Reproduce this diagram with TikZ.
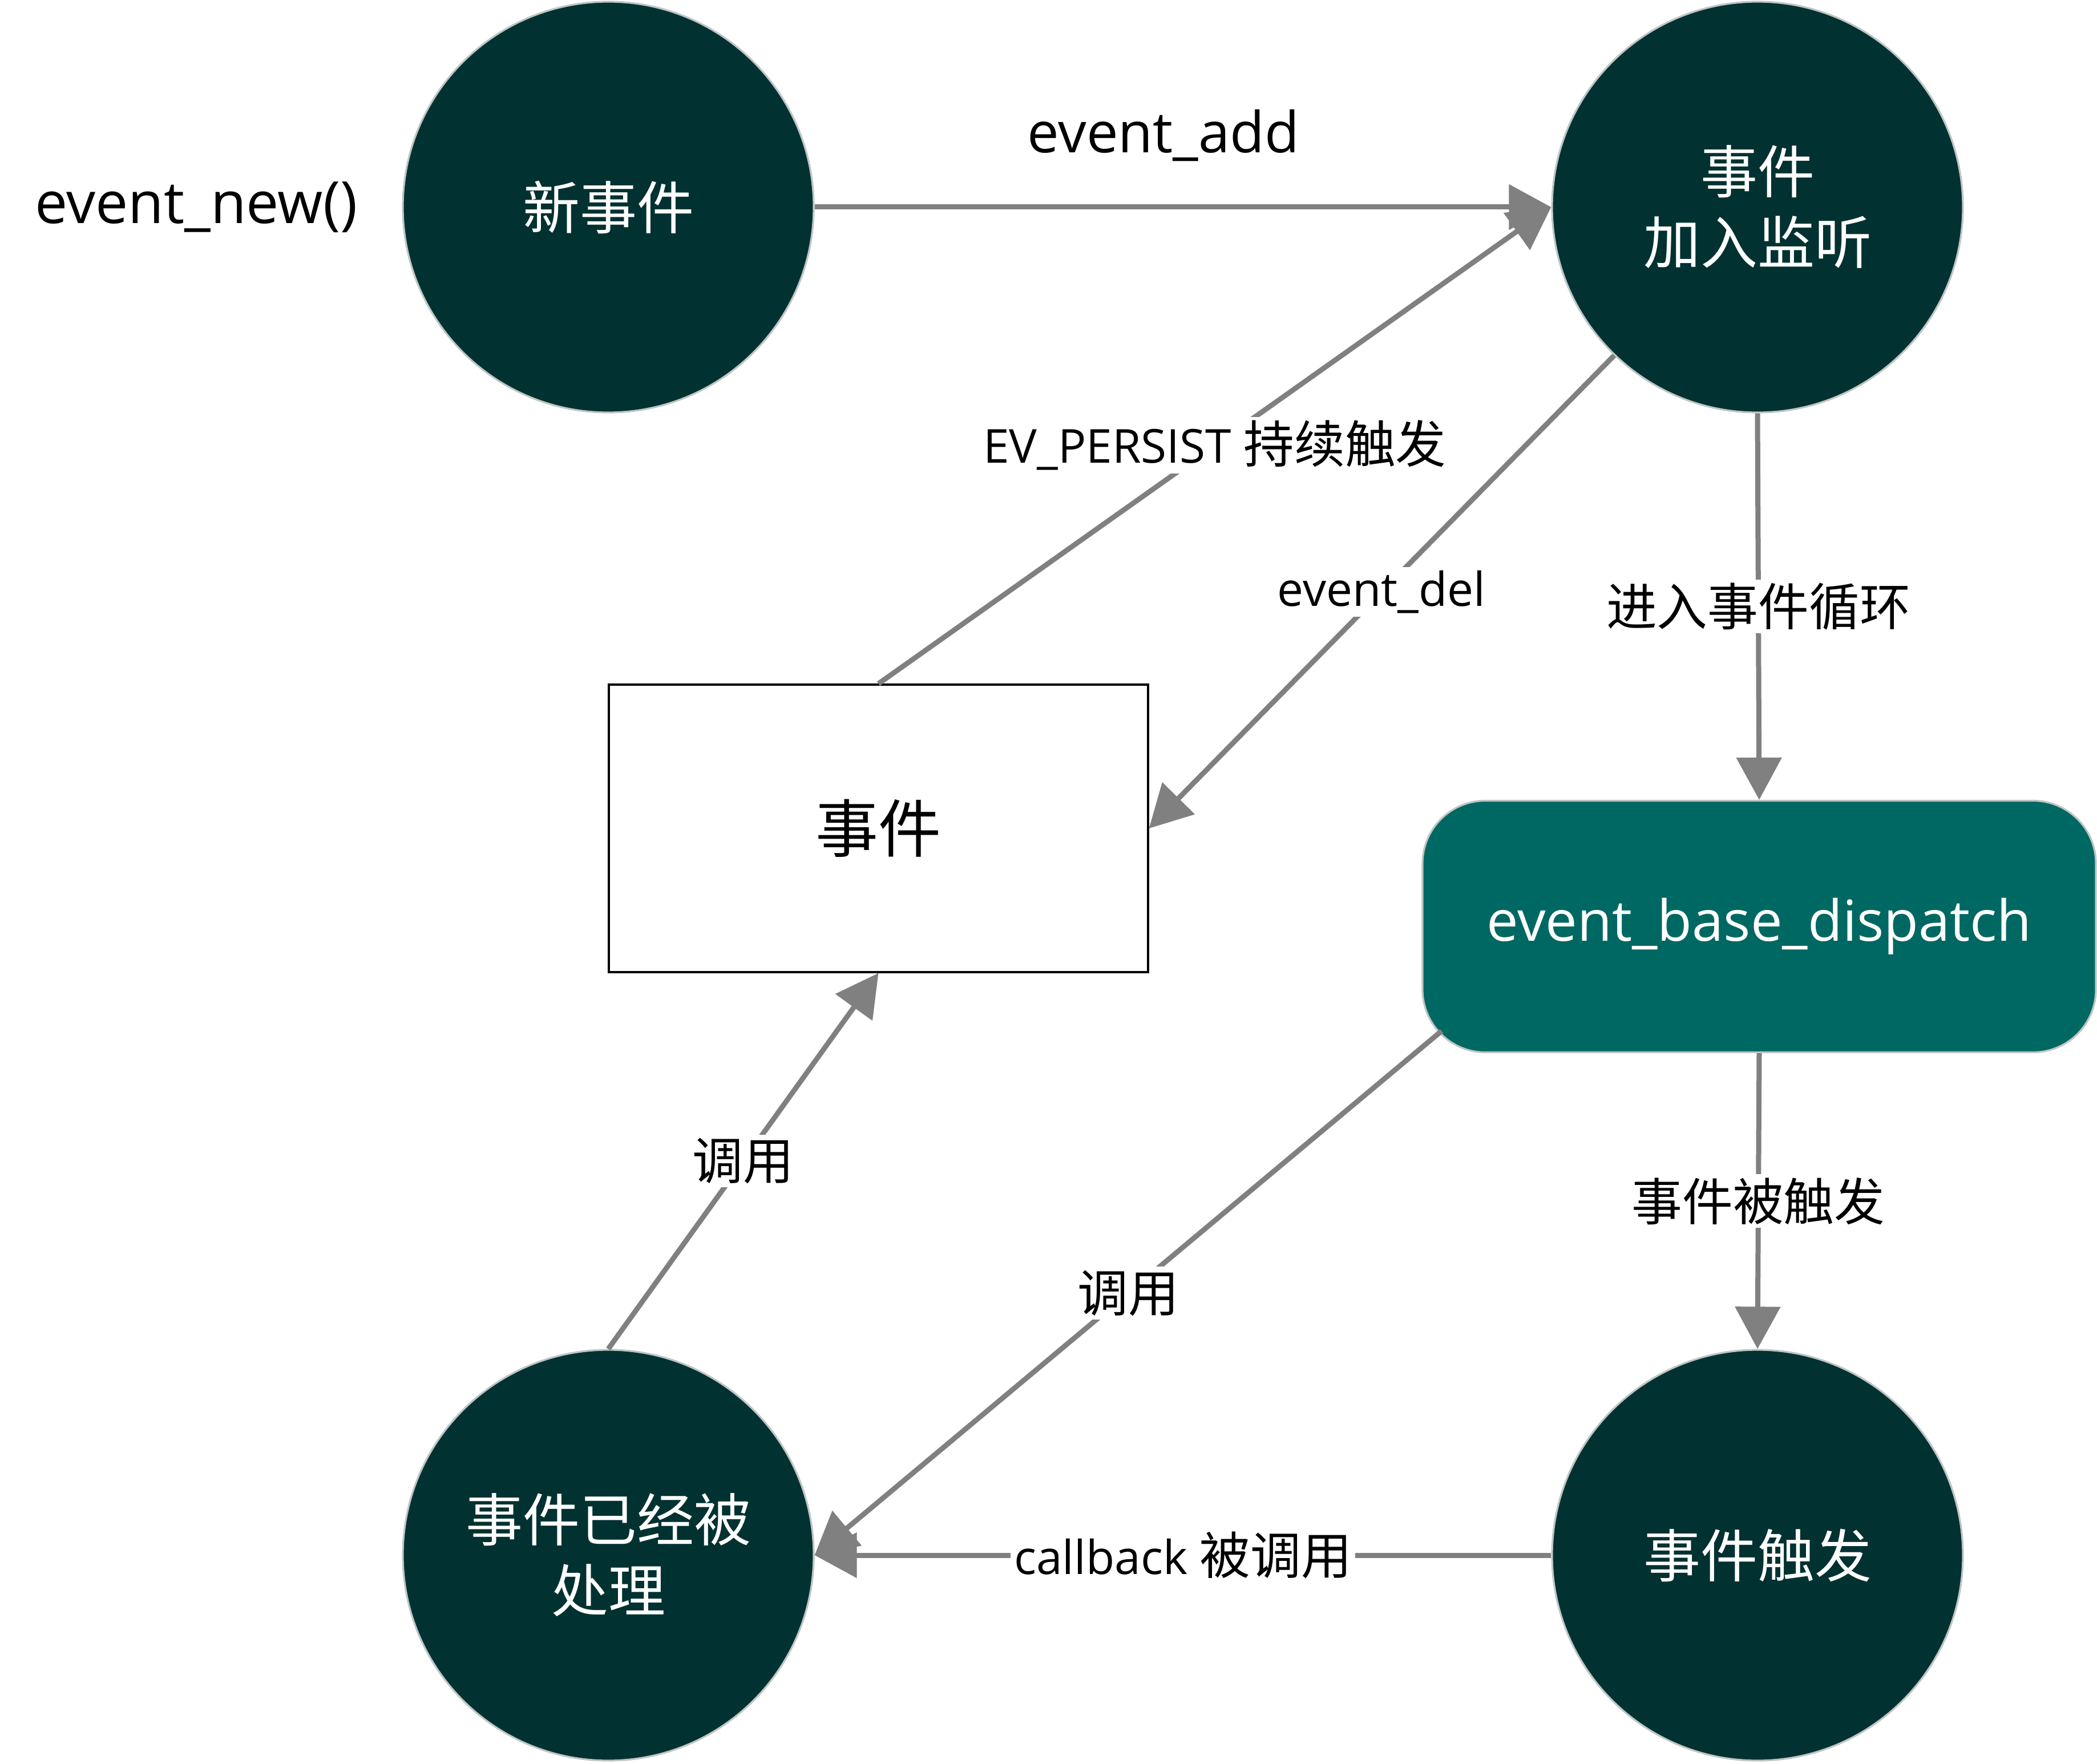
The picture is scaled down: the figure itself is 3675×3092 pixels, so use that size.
\documentclass[tikz,border=0pt]{standalone}
\usepackage{fontspec}
\setmainfont{Open Sans}
\newfontfamily\cjk{Noto Sans CJK SC}
\newcommand\zh[1]{{\fontsize{22.2}{26}\selectfont\cjk #1}}
\usetikzlibrary{arrows.meta}
\definecolor{darkteal}{RGB}{1,50,49}
\definecolor{dispteal}{RGB}{0,104,98}
\definecolor{arrgray}{RGB}{128,128,128}
\definecolor{rimgray}{RGB}{190,196,196}
\begin{document}
\begin{tikzpicture}[x=0.25pt,y=-0.25pt,
  state/.style={circle, fill=darkteal, draw=rimgray, line width=0.8pt, minimum size=180pt, inner sep=0pt,
    text=white, align=center, font=\fontsize{25}{31}\selectfont\cjk},
  evbox/.style={rectangle, draw=black, line width=0.8pt, fill=white, minimum width=236.25pt, minimum height=126pt,
    font=\fontsize{27.5}{32}\selectfont\cjk},
  dispbox/.style={rectangle, rounded corners=27.5pt, fill=dispteal, draw=rimgray, line width=0.8pt,
    minimum width=295pt, minimum height=110.25pt, text=white, font=\fontsize{24.8}{29}\selectfont},
  plain/.style={inner sep=0pt, font=\fontsize{24.8}{29}\selectfont},
  conn/.style={draw=arrgray, line width=2.25pt, -{Triangle[length=18.5pt,width=19.5pt]}},
  lbl/.style={fill=white, inner sep=1.5pt, font=\fontsize{20.5}{24}\selectfont}
]
\useasboundingbox (0,0) rectangle (3675,3092);

\node[state] (A) at (1066,363) {新事件};
\node[state] (B) at (3080,363) {事件\\加入监听};
\node[state] (C) at (1066,2726) {事件已经被\\处理};
\node[state] (D) at (3080,2726) {事件触发};
\node[evbox] (R) at (1539.5,1452) {事件};
\node[dispbox] (E) at (3083,1624) {event\_base\_dispatch};

\node[plain, font=\fontsize{25.5}{30}\selectfont] (newlbl) at (344,363) {event\_new()};
\node[plain] (addlbl) at (2039,237) {event\_add};

\draw[conn] (A.east) -- (B.west);
\draw[conn] (R.north) -- node[lbl, midway] {EV\_PERSIST \zh{持续触发}} (B.west);
\draw[conn] (B.226) -- node[lbl, midway] {event\_del} (R.east);
\draw[conn] (B.south) -- node[lbl, midway] {\zh{进入事件循环}} (E.north);
\draw[conn] (E.south) -- node[lbl, midway] {\zh{事件被触发}} (D.north);
\draw[conn] ([shift={(35,-39)}]E.south west) -- node[lbl, midway] {\zh{调用}} (C.east);
\draw[conn] (D.west) -- node[lbl, midway] {callback \zh{被调用}} (C.east);
\draw[conn] (C.north) -- node[lbl, midway] {\zh{调用}} (R.south);
\end{tikzpicture}
\end{document}
